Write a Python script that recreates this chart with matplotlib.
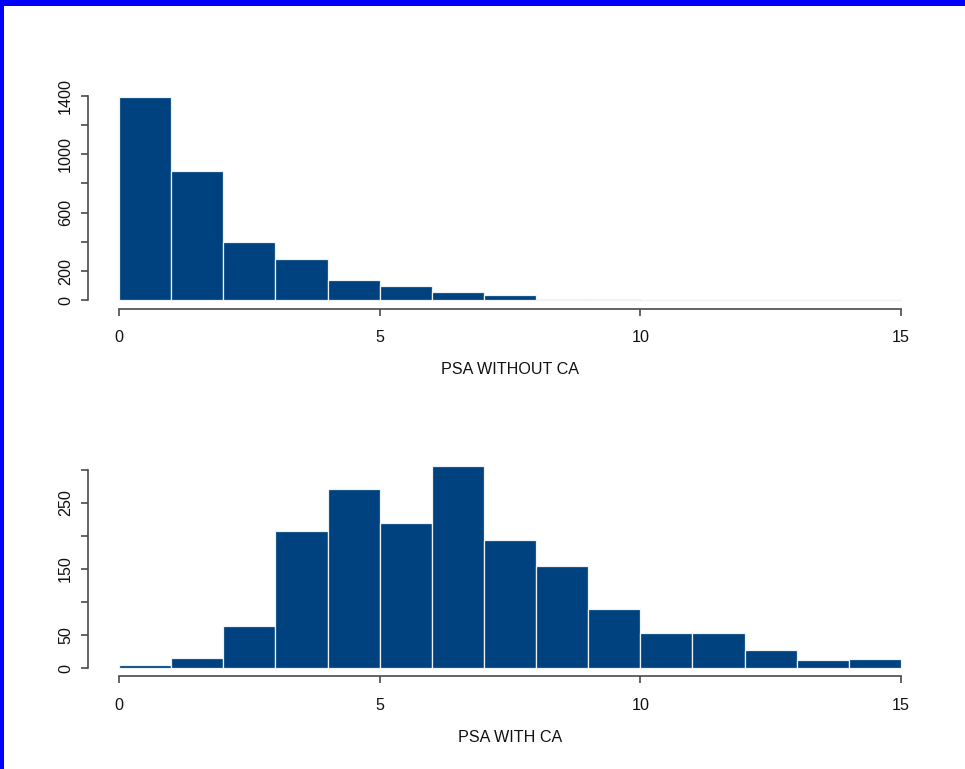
import numpy as np
import matplotlib.pyplot as plt
from matplotlib.patches import Rectangle

plt.rcParams['font.family'] = ['Liberation Sans', 'DejaVu Sans']

# histogram counts per unit-wide PSA bin, 0..15
bin_left = np.arange(0, 15)
psa_without_ca = [1395, 885, 399, 283, 141, 98, 59, 36, 10, 12, 3, 2, 1, 2, 1]
psa_with_ca = [5, 16, 64, 207, 271, 219, 306, 193, 155, 89, 53, 53, 28, 12, 14]

x_ticks = [0, 5, 10, 15]
top_ticks = list(range(0, 1401, 200))
top_shown = [0, 200, 600, 1000, 1400]
bottom_ticks = list(range(0, 301, 50))
bottom_shown = [0, 50, 150, 250]

W, H = 965, 769
fig = plt.figure(figsize=(W / 100, H / 100), dpi=100)

bar_color = '#00427f'
axis_color = '#4a4a4a'
fs = 11.6


def panel(rect, counts, yticks, shown, xlabel):
    ax = fig.add_axes(rect)
    ax.bar(bin_left, counts, width=1, align='edge', color=bar_color,
           edgecolor='#eef2f6', linewidth=0.9)
    top = max(counts)
    ax.set_xlim(-0.6, 15.6)
    ax.set_ylim(-0.04 * top, 1.04 * top)
    for s in ['top', 'right']:
        ax.spines[s].set_visible(False)
    ax.spines['left'].set_bounds(yticks[0], yticks[-1])
    ax.spines['bottom'].set_bounds(x_ticks[0], x_ticks[-1])
    for s in ['left', 'bottom']:
        ax.spines[s].set_color(axis_color)
        ax.spines[s].set_linewidth(1.2)
    ax.set_xticks(x_ticks)
    ax.set_xticklabels([str(t) for t in x_ticks])
    ax.set_yticks(yticks)
    ax.set_yticklabels([str(t) if t in shown else '' for t in yticks],
                       rotation=90, va='center')
    ax.tick_params(direction='out', length=5, width=1.2, color=axis_color,
                   labelsize=fs, labelcolor='#111111')
    ax.tick_params(axis='x', pad=10.5)
    ax.tick_params(axis='y', pad=5.5)
    ax.set_xlabel(xlabel, fontsize=fs, color='#111111', labelpad=12.5)
    return ax


panel([87.7 / W, 1 - 308.5 / H, 844.6 / W, 220.1 / H],
      psa_without_ca, top_ticks, top_shown, 'PSA WITHOUT CA')
panel([87.7 / W, 1 - 676.4 / H, 844.6 / W, 218.9 / H],
      psa_with_ca, bottom_ticks, bottom_shown, 'PSA WITH CA')

# blue frame along the left and top edges
fig.add_artist(Rectangle((0, 0), 4 / W, 1, transform=fig.transFigure,
                         color='#0000ff', lw=0))
fig.add_artist(Rectangle((0, 1 - 6 / H), 1, 6 / H, transform=fig.transFigure,
                         color='#0000ff', lw=0))

fig.savefig('out.png', dpi=100)
